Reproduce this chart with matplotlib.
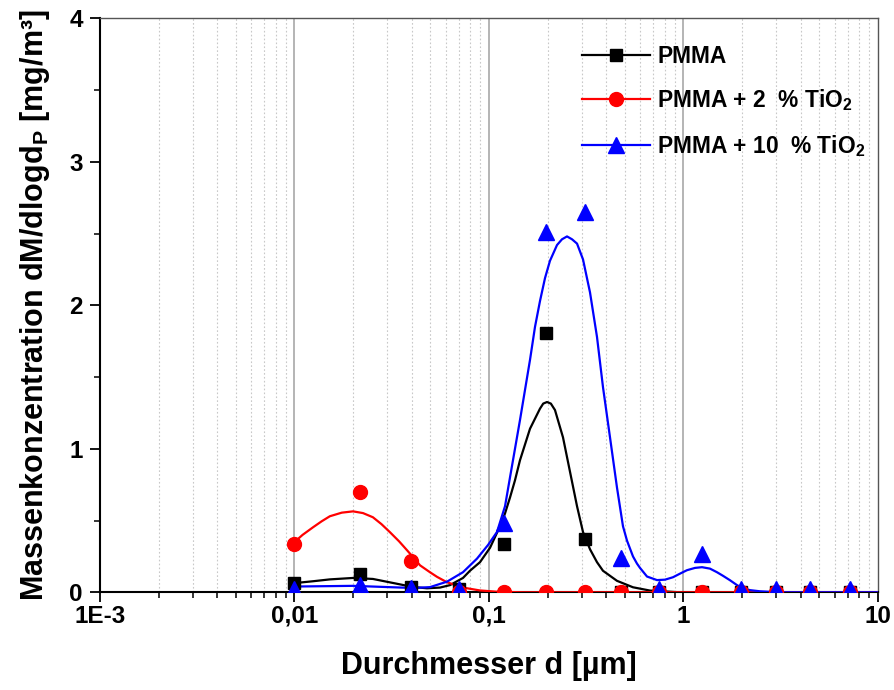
import matplotlib
matplotlib.use("Agg")
import matplotlib.pyplot as plt
from matplotlib.ticker import FixedLocator, NullFormatter

plt.rcParams['font.family'] = ['Liberation Sans', 'DejaVu Sans']
plt.rcParams['font.weight'] = 'bold'
plt.rcParams['mathtext.fontset'] = 'custom'
plt.rcParams['mathtext.rm'] = 'Liberation Sans:bold'
plt.rcParams['mathtext.bf'] = 'Liberation Sans:bold'
plt.rcParams['mathtext.it'] = 'Liberation Sans:bold'

# measured points
d_points = [0.01, 0.0217, 0.0397, 0.0701, 0.1194, 0.1964, 0.3115, 0.4773,
            0.748, 1.245, 1.975, 2.99, 4.47, 7.18]
pmma = [0.063, 0.13, 0.04, 0.025, 0.34, 1.81, 0.37, 0.0, 0.0, 0.0, 0.0, 0.0, 0.0, 0.0]
pmma_ti2 = [0.335, 0.70, 0.215, 0.0, 0.0, 0.0, 0.0, 0.0, 0.0, 0.0, 0.0, 0.0, 0.0, 0.0]
pmma_ti10 = [0.025, 0.05, 0.03, 0.02, 0.48, 2.51, 2.65, 0.24, 0.02, 0.27, 0.02, 0.02, 0.02, 0.02]

# fitted curves
fit_black_x = [0.00982, 0.01245, 0.0152, 0.0200, 0.0253, 0.0321, 0.0407, 0.048, 0.056,
               0.0630, 0.0735, 0.0798, 0.0899, 0.1012, 0.1139, 0.1209, 0.1282, 0.1360,
               0.1443, 0.1625, 0.1829, 0.1900, 0.1987, 0.2080, 0.2184, 0.2401, 0.2609,
               0.2835, 0.3043, 0.3306, 0.3591, 0.3855, 0.455, 0.5499, 0.6727, 0.9594, 10.0]
fit_black_y = [0.063, 0.077, 0.090, 0.100, 0.093, 0.065, 0.037, 0.028, 0.033,
               0.05, 0.10, 0.15, 0.21, 0.31, 0.46, 0.55, 0.66, 0.78,
               0.92, 1.14, 1.28, 1.315, 1.326, 1.315, 1.27, 1.08, 0.84,
               0.60, 0.42, 0.30, 0.21, 0.15, 0.08, 0.035, 0.012, 0.0, 0.0]

fit_red_x = [0.00982, 0.0110, 0.01245, 0.0138, 0.0152, 0.0175, 0.0200, 0.0225, 0.0253,
             0.0280, 0.0310, 0.0345, 0.0379, 0.0410, 0.0442, 0.0497, 0.0540, 0.0608,
             0.0735, 0.0897, 0.11, 0.15, 10.0]
fit_red_y = [0.341, 0.400, 0.453, 0.495, 0.530, 0.555, 0.564, 0.552, 0.523,
             0.475, 0.418, 0.355, 0.293, 0.240, 0.188, 0.140, 0.108, 0.070,
             0.033, 0.013, 0.004, 0.0, 0.0]

fit_blue_x = [0.00982, 0.0200, 0.0321, 0.0407, 0.0497, 0.0608, 0.0735, 0.0868, 0.0989,
              0.1099, 0.1209, 0.1282, 0.1443, 0.1625, 0.1724, 0.1829, 0.1941, 0.2058,
              0.2237, 0.2373, 0.2518, 0.2672, 0.2835, 0.3043, 0.3306, 0.3591, 0.3855,
              0.4189, 0.455, 0.4885, 0.5123, 0.5499, 0.5766, 0.5975, 0.6491, 0.7307,
              0.8033, 0.8832, 0.9594, 1.042, 1.146, 1.245, 1.368, 1.486, 1.596, 1.734,
              1.884, 2.023, 2.198, 2.474, 3.134, 10.0]
fit_blue_y = [0.040, 0.045, 0.035, 0.030, 0.036, 0.074, 0.14, 0.235, 0.33,
              0.42, 0.60, 0.80, 1.20, 1.62, 1.85, 2.03, 2.19, 2.31,
              2.42, 2.46, 2.48, 2.46, 2.43, 2.32, 2.09, 1.78, 1.43,
              1.08, 0.73, 0.46, 0.36, 0.25, 0.20, 0.17, 0.11, 0.085,
              0.088, 0.105, 0.13, 0.154, 0.17, 0.175, 0.165, 0.14, 0.115, 0.084,
              0.05, 0.028, 0.015, 0.007, 0.0, 0.0]

labels = ['PMMA', r'PMMA + 2  % TiO$_\mathbf{2}$', r'PMMA + 10  % TiO$_\mathbf{2}$']
x_ticks = [1e-3, 1e-2, 1e-1, 1, 10]
x_ticklabels = ['1E-3', '0,01', '0,1', '1', '10']
y_ticks = [0, 1, 2, 3, 4]

fig = plt.figure(figsize=(8.95, 6.9), dpi=100)
ax = fig.add_axes([100/895, 1-592.3/690, 778/895, 574/690])
ax.set_xscale('log')
ax.set_xlim(1e-3, 10)
ax.set_ylim(0, 4)

# grid
minors = [m * 10.0**e for e in range(-3, 1) for m in range(2, 10)]
for xv in minors:
    ax.axvline(xv, color='#c8c8c8', lw=0.8, ls=(0, (1.5, 2)), zorder=0)
for xv in [1e-2, 1e-1, 1]:
    ax.axvline(xv, color='#a8a8a8', lw=1.2, zorder=0)

series = [
    (fit_black_x, fit_black_y, pmma, 'black', 's', 9),
    (fit_red_x, fit_red_y, pmma_ti2, 'red', 'o', 10),
    (fit_blue_x, fit_blue_y, pmma_ti10, 'blue', '^', 11),
]
handles = []
for (fx, fy, pts, col, mk, ms), lab in zip(series, labels):
    ax.plot(fx, fy, color=col, lw=1.6, zorder=3)
    ax.plot(d_points, pts, ls='none', marker=mk, color=col, ms=ms, zorder=4)
    h, = ax.plot([], [], color=col, lw=1.6, marker=mk, ms=ms)
    handles.append(h)

ax.set_xticks(x_ticks)
ax.set_xticklabels(x_ticklabels)
ax.xaxis.set_minor_locator(FixedLocator(minors))
ax.xaxis.set_minor_formatter(NullFormatter())
ax.set_yticks(y_ticks)
ax.yaxis.set_minor_locator(FixedLocator([0.5, 1.5, 2.5, 3.5]))

ax.tick_params(axis='both', which='major', direction='out', length=7.5, width=1.3,
               labelsize=17.5, top=False, right=False)
ax.tick_params(axis='x', which='major', pad=1.5)
ax.tick_params(axis='y', which='major', pad=5)
ax.tick_params(axis='both', which='minor', direction='out', length=4.5, width=1.1,
               top=False, right=False)
for lab in ax.get_xticklabels() + ax.get_yticklabels():
    lab.set_fontweight('bold')

for s in ['left', 'bottom']:
    ax.spines[s].set_linewidth(1.5)
for s in ['top', 'right']:
    ax.spines[s].set_linewidth(1.0)
    ax.spines[s].set_color('#555555')

ax.set_xlabel('Durchmesser d [µm]', fontsize=22, fontweight='bold', labelpad=17)
ax.set_ylabel(r'Massenkonzentration dM/dlogd$_\mathbf{P}$ [mg/m³]', fontsize=22,
              fontweight='bold', labelpad=12)

leg = ax.legend(handles, labels, loc='upper left', bbox_to_anchor=(0.6195, 0.9535),
                frameon=False, fontsize=16.4, handlelength=3.0, handletextpad=0.3,
                labelspacing=0.85, borderpad=0, borderaxespad=0)
for t in leg.get_texts():
    t.set_fontweight('bold')

fig.savefig('out.png', dpi=100)
